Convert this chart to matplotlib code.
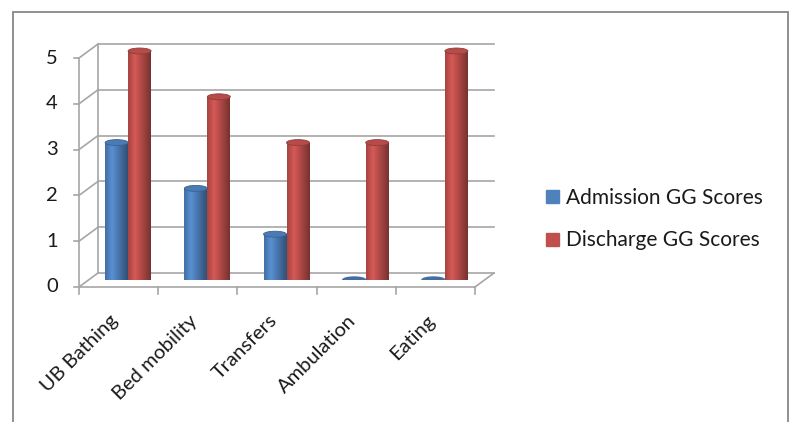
import numpy as np
import matplotlib
matplotlib.use("Agg")
import matplotlib.pyplot as plt
import matplotlib.transforms as mtransforms
from matplotlib.patches import Ellipse, Rectangle
from matplotlib.colors import to_rgb

plt.rcParams["font.family"] = ["Lato", "DejaVu Sans"]

categories = ["UB Bathing", "Bed mobility", "Transfers", "Ambulation", "Eating"]
admission = [3, 2, 1, 0, 0]
discharge = [5, 4, 3, 3, 5]
series_names = ["Admission GG Scores", "Discharge GG Scores"]
series_colors = ["#4F81BD", "#C0504D"]
y_ticks = [0, 1, 2, 3, 4, 5]

W, H = 793, 422
fig = plt.figure(figsize=(W / 100, H / 100), dpi=100)

# bar plane (middle of the 3D depth) in pixels
x0, x1 = 88.5, 484.5
yzero, unit = 280, 45.8
ax = fig.add_axes([x0 / W, (H - yzero) / H, (x1 - x0) / W, 5 * unit / H])
ax.set_xlim(0, 5)
ax.set_ylim(0, 5)
ax.axis("off")

front = mtransforms.offset_copy(ax.transData, fig=fig, x=-9.5, y=-7, units="dots")
back = mtransforms.offset_copy(ax.transData, fig=fig, x=9.5, y=7, units="dots")
grid_c = "#a6a6a6"
lw = 1.2
txt_c = "#1a1a1a"

# back wall gridlines, side diagonals
for v in y_ticks:
    ax.plot([0, 5], [v, v], color=grid_c, lw=lw, transform=back, clip_on=False, zorder=1)
    xb, yb = back.transform((0, v))
    xf, yf = front.transform((0, v))
    ax.plot([xf, xb], [yf, yb], color=grid_c, lw=lw, transform=None, clip_on=False, zorder=1)
ax.plot([0, 0], [0, 5], color=grid_c, lw=lw, transform=back, clip_on=False, zorder=1)

# floor
xb, yb = back.transform((5, 0))
xf, yf = front.transform((5, 0))
ax.plot([xf, xb], [yf, yb], color=grid_c, lw=lw, transform=None, clip_on=False, zorder=1)
ax.plot([0, 5], [0, 0], color=grid_c, lw=lw, transform=front, clip_on=False, zorder=1)
ax.plot([0, 0], [0, 5], color=grid_c, lw=lw, transform=front, clip_on=False, zorder=1)

# ticks
for v in y_ticks:
    xf, yf = front.transform((0, v))
    ax.plot([xf - 5, xf], [yf, yf], color=grid_c, lw=lw, transform=None, clip_on=False)
    ax.text(xf - 21, yf, str(v), transform=None, ha="right", va="center",
            fontsize=14.5, color=txt_c)
for i in range(len(categories) + 1):
    xf, yf = front.transform((i, 0))
    ax.plot([xf, xf], [yf, yf - 7], color=grid_c, lw=lw, transform=None, clip_on=False)

for i, lab in enumerate(categories):
    xf, yf = front.transform((i + 0.5, 0))
    ax.text(xf - 3, yf - 31, lab, transform=None, rotation=45, rotation_mode="anchor",
            ha="right", va="center", fontsize=14.5, color=txt_c)

# cylinders
bw = 0.29
eh = 0.13
prof_t = [0.0, 0.3, 1.0]
prof_v = [0.85, 1.12, 0.62]
grad = np.interp(np.linspace(0, 1, 64), prof_t, prof_v)


def shade(col, g):
    c = np.array(to_rgb(col))
    return np.clip(c[None, :] * g[:, None], 0, 1)


for s, (vals, col, name) in enumerate(zip([admission, discharge], series_colors, series_names)):
    xs = np.arange(len(categories)) + 0.355 + s * bw
    bars = ax.bar(xs, vals, width=bw, color=col, label=name, zorder=3)
    img = shade(col, grad)[None, :, :]
    for x, v, b in zip(xs, vals, bars):
        if v <= 0:
            b.set_visible(False)
            e = Ellipse((x, 0), bw, eh, color=shade(col, np.array([0.85]))[0], zorder=3)
            ax.add_patch(e)
            continue
        b.set_facecolor("none")
        for clip in [b, Ellipse((x, 0), bw, eh, transform=ax.transData)]:
            im = ax.imshow(img, extent=[x - bw / 2, x + bw / 2, -eh, v], aspect="auto",
                           zorder=3, interpolation="bilinear")
            im.set_clip_path(clip)
            im.set_clip_box(None)
            im.set_clip_path(clip)
        top = Ellipse((x, v), bw, eh, facecolor=shade(col, np.array([0.95]))[0],
                      edgecolor=shade(col, np.array([0.75]))[0], lw=0.6, zorder=4,
                      clip_on=False)
        ax.add_patch(top)

ax.set_xlim(0, 5)
ax.set_ylim(0, 5)

handles = [Rectangle((0, 0), 1, 1, color=c) for c in series_colors]
fig.legend(handles, series_names, loc="upper left", bbox_to_anchor=(546 / W, 1 - 188 / H),
           frameon=False, fontsize=15, handlelength=0.6, handleheight=0.6,
           handletextpad=0.38, labelspacing=1.08, borderpad=0, borderaxespad=0,
           labelcolor=txt_c)

fig.add_artist(Rectangle((13 / W, -0.1), 775 / W, 1.1 - 12 / H, transform=fig.transFigure,
                         fill=False, edgecolor="#888888", lw=1.3))

fig.savefig("out.png", dpi=100, facecolor="white")
